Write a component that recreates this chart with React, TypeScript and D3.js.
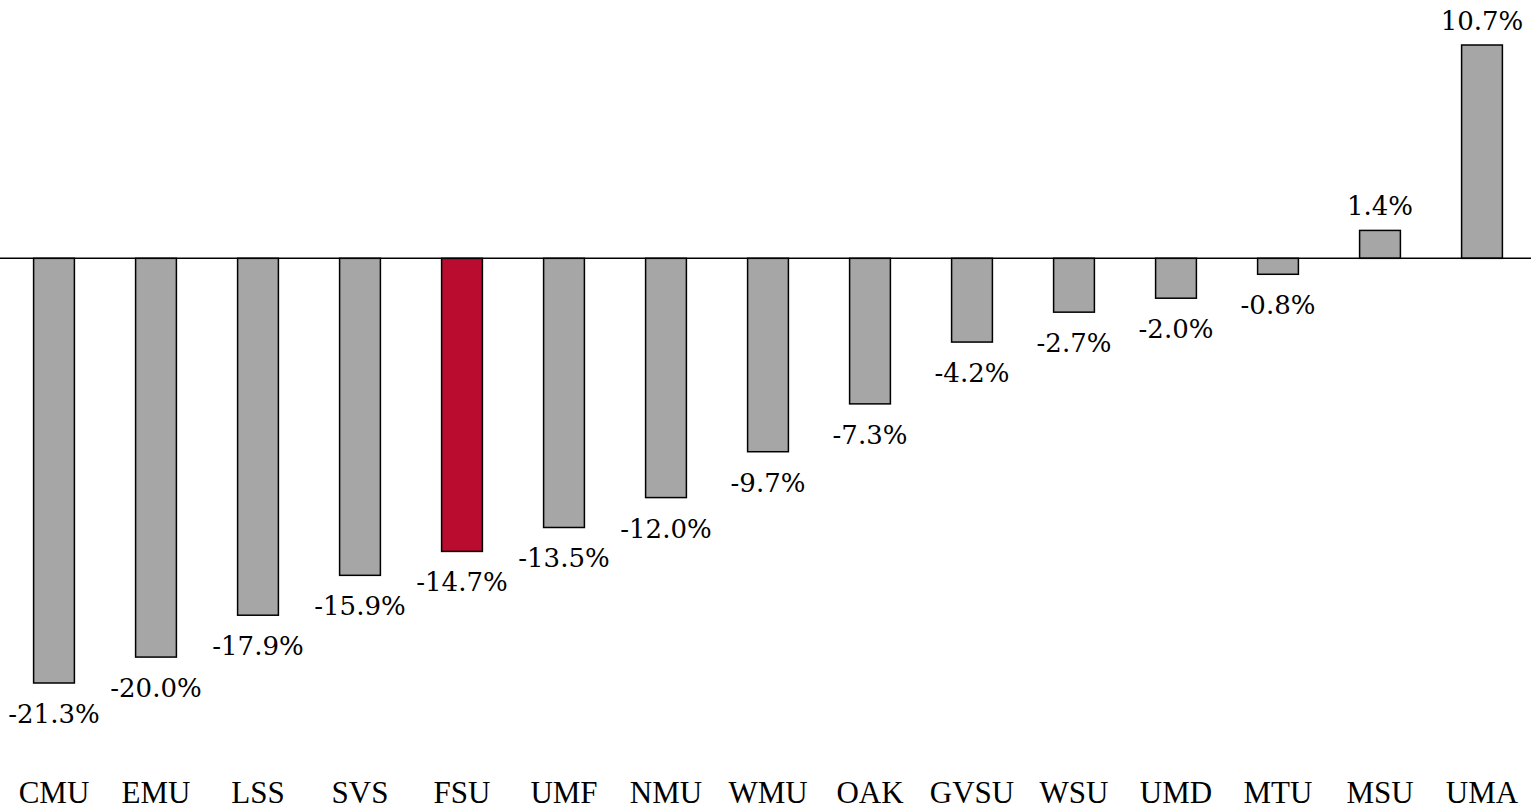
import React from "react";
import * as d3 from "d3";

const categories = ["CMU", "EMU", "LSS", "SVS", "FSU", "UMF", "NMU", "WMU", "OAK", "GVSU", "WSU", "UMD", "MTU", "MSU", "UMA"];
const values = [-21.3, -20.0, -17.9, -15.9, -14.7, -13.5, -12.0, -9.7, -7.3, -4.2, -2.7, -2.0, -0.8, 1.4, 10.7];
const highlight = ["FSU"];

const W = 1531;
const H = 811;

export default function App() {
  const x = d3.scaleBand<string>().domain(categories).range([3, 1533]).paddingInner(0.6).paddingOuter(0.3);
  const y = d3.scaleLinear().domain([10.7, -21.3]).range([45, 683]);
  const y0 = y(0);
  const fmt = (v: number) => v.toFixed(1) + "%";
  return (
    <svg width={W} height={H} style={{ position: "absolute", left: 0, top: 0, background: "#fff" }}>
      {categories.map((c, i) => {
        const v = values[i];
        const top = Math.min(y(v), y0);
        const h = Math.abs(y(v) - y0);
        const cx = (x(c) as number) + x.bandwidth() / 2;
        return (
          <g key={c}>
            <rect x={x(c)} y={top} width={x.bandwidth()} height={h}
              fill={highlight.includes(c) ? "#BA0C2F" : "#A6A6A6"} stroke="#000" strokeWidth={1.5} />
            <text x={cx} y={v >= 0 ? y(v) - 15 : y(v) + 40} textAnchor="middle"
              fontFamily="'DejaVu Serif', serif" fontSize={26} fill="#000">{fmt(v)}</text>
            <text x={cx} y={803} textAnchor="middle" fontFamily="'Liberation Serif', serif" fontSize={31} fill="#000">{c}</text>
          </g>
        );
      })}
      <line x1={0} x2={W} y1={y0} y2={y0} stroke="#000" strokeWidth={1.5} />
    </svg>
  );
}
